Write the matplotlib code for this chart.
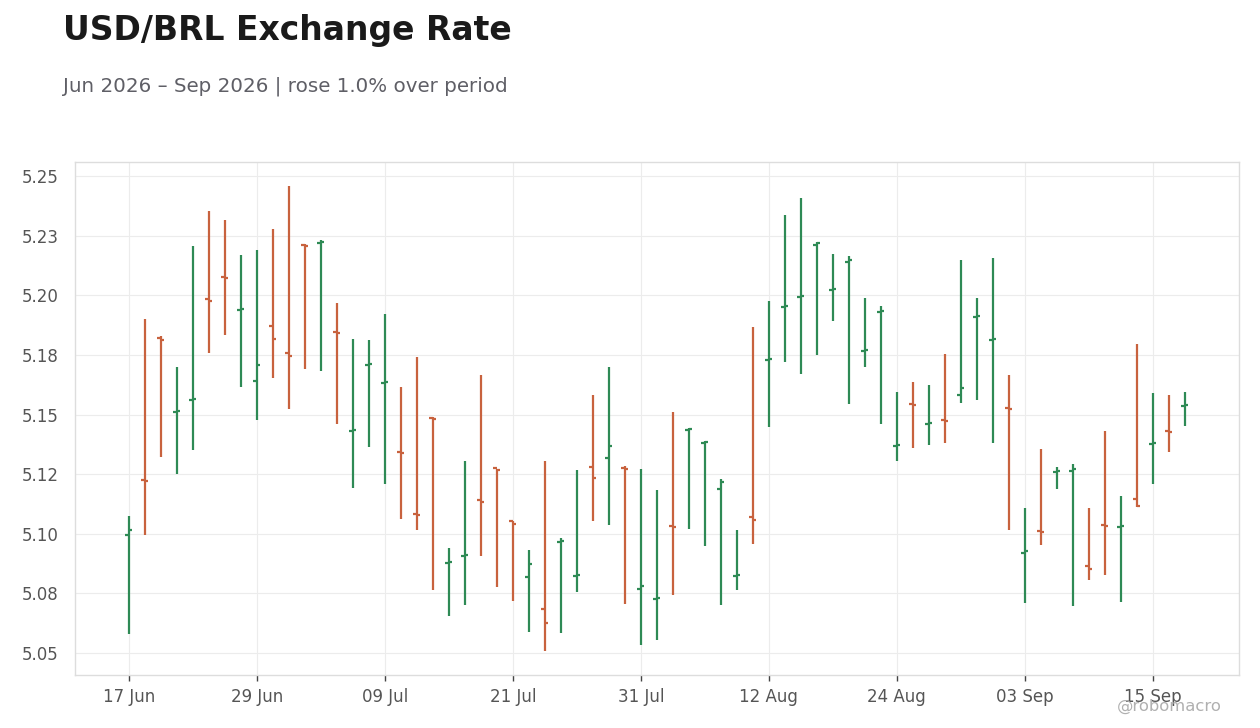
import pandas as pd
import matplotlib
matplotlib.use("Agg")
import matplotlib.pyplot as plt

# USD/BRL daily OHLC, business days 17 Jun 2026 - 17 Sep 2026
dates = pd.bdate_range("2026-06-17", "2026-09-17")

opens = [5.0993, 5.1225, 5.1823, 5.1511, 5.1563, 5.1986, 5.2078, 5.1938, 5.1642, 5.1873,
         5.1756, 5.2212, 5.2221, 5.1848, 5.1432, 5.1708, 5.1632, 5.1343, 5.1081, 5.1486,
         5.0878, 5.0907, 5.1140, 5.1274, 5.1053, 5.0817, 5.0683, 5.0965, 5.0821, 5.1282,
         5.1316, 5.1275, 5.0770, 5.0726, 5.1031, 5.1435, 5.1379, 5.1189, 5.0822, 5.1071,
         5.1730, 5.1951, 5.1994, 5.2212, 5.2022, 5.2140, 5.1766, 5.1930, 5.1370, 5.1545,
         5.1462, 5.1478, 5.1580, 5.1909, 5.1813, 5.1526, 5.0918, 5.1013, 5.1259, 5.1265,
         5.0863, 5.1037, 5.1029, 5.1144, 5.1378, 5.1431, 5.1536]
highs = [5.1075, 5.1899, 5.1828, 5.1700, 5.2207, 5.2353, 5.2316, 5.2169, 5.2190, 5.2278,
         5.2458, 5.2215, 5.2230, 5.1966, 5.1817, 5.1813, 5.1922, 5.1616, 5.1742, 5.1489,
         5.0941, 5.1306, 5.1666, 5.1272, 5.1053, 5.0933, 5.1306, 5.0982, 5.1268, 5.1582,
         5.1700, 5.1285, 5.1272, 5.1184, 5.1511, 5.1444, 5.1390, 5.1230, 5.1017, 5.1867,
         5.1976, 5.2337, 5.2408, 5.2224, 5.2173, 5.2163, 5.1989, 5.1955, 5.1595, 5.1637,
         5.1624, 5.1754, 5.2148, 5.1989, 5.2156, 5.1666, 5.1109, 5.1356, 5.1281, 5.1293,
         5.1109, 5.1432, 5.1159, 5.1797, 5.1591, 5.1582, 5.1595]
lows = [5.0578, 5.0993, 5.1320, 5.1249, 5.1352, 5.1756, 5.1835, 5.1617, 5.1479, 5.1655,
        5.1525, 5.1693, 5.1684, 5.1462, 5.1190, 5.1362, 5.1207, 5.1060, 5.1014, 5.0763,
        5.0654, 5.0700, 5.0909, 5.0775, 5.0717, 5.0587, 5.0507, 5.0583, 5.0758, 5.1052,
        5.1035, 5.0704, 5.0532, 5.0556, 5.0744, 5.1021, 5.0950, 5.0703, 5.0765, 5.0958,
        5.1446, 5.1722, 5.1672, 5.1751, 5.1894, 5.1546, 5.1701, 5.1462, 5.1307, 5.1358,
        5.1374, 5.1379, 5.1550, 5.1563, 5.1379, 5.1014, 5.0708, 5.0951, 5.1186, 5.0696,
        5.0805, 5.0826, 5.0712, 5.1113, 5.1207, 5.1345, 5.1450]
closes = [5.1018, 5.1220, 5.1813, 5.1517, 5.1567, 5.1978, 5.2074, 5.1942, 5.1708, 5.1818,
          5.1746, 5.2207, 5.2224, 5.1844, 5.1436, 5.1712, 5.1636, 5.1339, 5.1077, 5.1480,
          5.0882, 5.0911, 5.1135, 5.1268, 5.1043, 5.0874, 5.0624, 5.0970, 5.0826, 5.1232,
          5.1370, 5.1272, 5.0782, 5.0730, 5.1027, 5.1439, 5.1387, 5.1219, 5.0826, 5.1059,
          5.1734, 5.1955, 5.1997, 5.2218, 5.2026, 5.2146, 5.1770, 5.1934, 5.1374, 5.1541,
          5.1466, 5.1474, 5.1612, 5.1913, 5.1817, 5.1522, 5.0926, 5.1009, 5.1263, 5.1270,
          5.0851, 5.1033, 5.1033, 5.1115, 5.1382, 5.1427, 5.1540]

ytick_vals = [5.05, 5.075, 5.10, 5.125, 5.15, 5.175, 5.20, 5.225, 5.25]
ytick_labels = ["5.05", "5.08", "5.10", "5.12", "5.15", "5.18", "5.20", "5.23", "5.25"]

up_color = "#2e8a55"
down_color = "#c8623e"

fig = plt.figure(figsize=(12.6, 7.28), dpi=100)
ax = fig.add_axes([0.0595, 0.0728, 0.9238, 0.7047])

x = list(range(len(dates)))
colors = [up_color if c >= o else down_color for o, c in zip(opens, closes)]
tick = 0.22

# high-low line, open tick on the left, close tick on the right
ax.vlines(x, lows, highs, colors=colors, linewidth=1.6, zorder=3)
ax.hlines(opens, [i - tick for i in x], x, colors=colors, linewidth=1.6, zorder=3)
ax.hlines(closes, x, [i + tick for i in x], colors=colors, linewidth=1.6, zorder=3)

ax.set_xlim(-3.375, 69.4)
ax.set_ylim(5.0408, 5.2559)

xt = x[::8]
ax.set_xticks(xt)
ax.set_xticklabels([dates[i].strftime("%d %b") for i in xt])
ax.set_yticks(ytick_vals)
ax.set_yticklabels(ytick_labels)

ax.grid(True, color="#ececec", linewidth=0.8, zorder=0)
ax.set_axisbelow(True)
for s in ax.spines.values():
    s.set_color("#dddddd")
    s.set_linewidth(1.0)
ax.tick_params(axis="x", colors="#555555", labelsize=12, length=4, width=1, pad=5)
ax.tick_params(axis="y", colors="#555555", labelsize=12, length=0, pad=12)
ax.tick_params(axis="x", color="#444444")

fig.text(0.05, 0.945, "USD/BRL Exchange Rate", fontsize=23.8, fontweight="bold",
         color="#1a1a1a", ha="left", va="baseline")
fig.text(0.05, 0.874, "Jun 2026 \u2013 Sep 2026 | rose 1.0% over period", fontsize=14.3,
         color="#5f5f66", ha="left", va="baseline")
fig.text(0.970, 0.024, "@robomacro", fontsize=11.8, color="#b0b0b0", ha="right", va="baseline")

fig.savefig("out.png", dpi=100)
